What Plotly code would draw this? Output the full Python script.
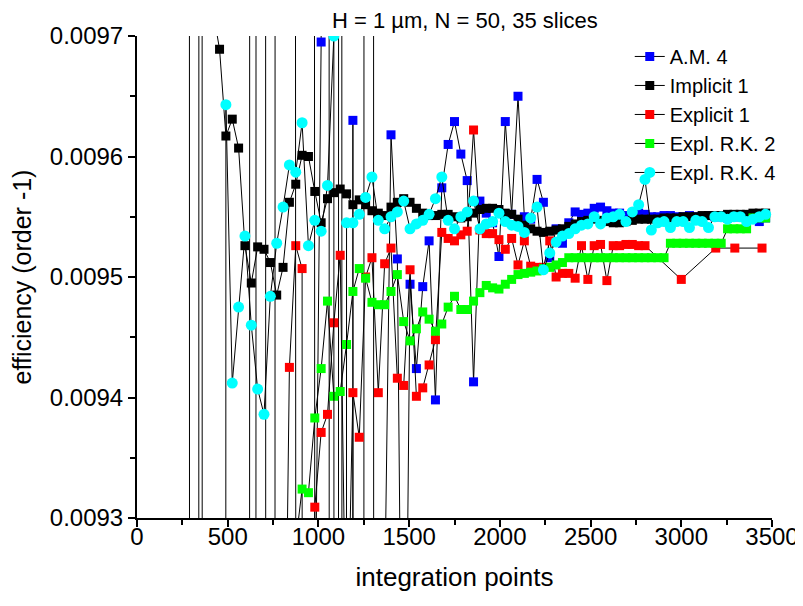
import plotly.graph_objects as go

STEP = 35  # integration points grow by 35 per slice setting

# A.M. 4 (starts at 8*35); values far outside the window are the divergent runs
am4_start = 8
am4 = [0.02, -0.02, 0.02, -0.02, -0.02, -0.02, -0.02, -0.02, -0.02, -0.02,
       0.02, 0.02, 0.02, -0.02, 0.02, 0.02, 0.02, 0.02, 0.02, 0.02,
       0.00917, 0.009695, 0.02, -0.02, 0.02, -0.02, 0.00963, -0.02, 0.02, 0.02,
       -0.02, 0.00923, 0.009618, 0.009515, 0.00894, 0.009494, 0.009424, 0.009492, 0.00953, 0.009398,
       0.009574, 0.00961, 0.009629, 0.009602, 0.00958, 0.009413, 0.009563, 0.009553, 0.009545, 0.009517,
       0.009629, 0.009552, 0.00965, 0.00955, 0.009548, 0.009581, 0.009562, 0.009516, 0.00954, 0.009528,
       0.009545, 0.009554, 0.009552, 0.009553, 0.009557, 0.009558, 0.009555, 0.009553, 0.009553, 0.009551,
       0.009552, 0.009553, 0.009552, 0.00955, 0.00955, 0.009551, 0.009551, 0.00955, 0.00955, 0.009551,
       0.00955, 0.00955, 0.009551, 0.00955, 0.00955, 0.009549, 0.00955, 0.00955, 0.00955, 0.009549,
       0.009546, 0.009549]

# Implicit 1
impl1_start = 12
impl1 = [0.00972, 0.009689, 0.009617, 0.009631, 0.009607, 0.009526, 0.009495, 0.009525, 0.009523, 0.009512,
         0.009485, 0.009508, 0.009562, 0.009577, 0.009601, 0.0096, 0.009571, 0.009545, 0.009565, 0.00957,
         0.009573, 0.009569, 0.00956, 0.009564, 0.00956, 0.009555, 0.009553, 0.009551, 0.009558, 0.009562,
         0.009565, 0.009562, 0.009557, 0.009553, 0.009551, 0.009551, 0.009552, 0.009552, 0.00955, 0.009549,
         0.00955, 0.009553, 0.009556, 0.009557, 0.009557, 0.009556, 0.009553, 0.009552, 0.009548, 0.009543,
         0.00954, 0.009538, 0.009537, 0.009538, 0.009539, 0.00954, 0.009542, 0.009544, 0.009546, 0.009547,
         0.009548, 0.009547, 0.009546, 0.009545, 0.009545, 0.009546, 0.009547, 0.009548, 0.009548, 0.009548,
         0.009548, 0.009549, 0.009549, 0.009549, 0.00955, 0.00955, 0.00955, 0.009551, 0.009551, 0.009551,
         0.009551, 0.009552, 0.009552, 0.009552, 0.009552, 0.009553, 0.009553, 0.009553]

# Explicit 1 (dense part, then a sparse tail)
expl1_start = 23
expl1 = [0.0090, 0.009425, 0.009526, 0.009507, -0.02, 0.009309, 0.009371, 0.009386, 0.009462, 0.009518,
         0.00915, 0.009404, 0.009367, 0.0095, 0.009516, 0.009404, 0.009511, 0.009524, 0.009416, 0.00941,
         0.009506, 0.009401, 0.009408, 0.009427, 0.009448, 0.009537, 0.009532, 0.00953, 0.009535, 0.009538,
         0.009622, 0.009539, 0.009536, 0.009536, 0.009531, 0.009523, 0.009532, 0.00951, 0.00953, 0.009509,
         0.009508, 0.009508, 0.00953, 0.0095, 0.009503, 0.009503, 0.009499, 0.009526, 0.009498, 0.009526,
         0.009527, 0.009497, 0.009526, 0.009526, 0.009527, 0.009527, 0.009526, 0.009526]
expl1_tail_x = [3000, 3190, 3295, 3445]
expl1_tail = [0.009498, 0.009524, 0.009524, 0.009524]

# Expl. R.K. 2
rk2_start = 16
rk2 = [-0.02, -0.02, -0.02, 0.02, 0.02, 0.02, 0.02, 0.02, 0.02, 0.00928,
       0.009324, 0.009321, 0.009383, 0.009424, 0.00948, 0.009401, 0.009405, 0.009444, 0.009488, 0.009507,
       0.009499, 0.009479, 0.009477, 0.009477, 0.009488, 0.009502, 0.009463, 0.009447, 0.009457, 0.009471,
       0.009465, 0.009455, 0.009461, 0.009475, 0.009484, 0.009473, 0.009473, 0.00948, 0.009487, 0.009493,
       0.009491, 0.00949, 0.009494, 0.009498, 0.009502, 0.009503, 0.009504, 0.009505, 0.009507, 0.009508,
       0.00951, 0.009512, 0.009516, 0.009516, 0.009516, 0.009516, 0.009516, 0.009516, 0.009516, 0.009516,
       0.009516, 0.009516, 0.009516, 0.009516, 0.009516, 0.009516, 0.009516, 0.009516, 0.009528, 0.009528,
       0.009528, 0.009528, 0.009528, 0.009528, 0.009528, 0.009528, 0.009528, 0.00954, 0.00954, 0.00954,
       0.00954, 0.009549, 0.009549, 0.009549]

# Expl. R.K. 4
rk4_start = 13
rk4 = [-0.02, 0.009643, 0.009412, 0.009475, 0.009534, 0.00946, 0.009407, 0.009386, 0.009484, 0.009528,
       0.009558, 0.009593, 0.009587, 0.009628, 0.009526, 0.009547, 0.009538, 0.009576, 0.0097, -0.02,
       0.009545, 0.009545, 0.009552, 0.009566, 0.009583, 0.009547, 0.00954, 0.00955, 0.009554, 0.009563,
       0.00954, 0.009544, 0.009547, 0.009552, 0.009565, 0.009583, 0.009547, 0.00954, 0.00955, 0.009554,
       0.009563, 0.00954, 0.009544, 0.009546, 0.009553, 0.009546, 0.009543, 0.009542, 0.009537, 0.009549,
       0.009558, 0.009506, 0.00952, 0.009529, 0.009534, 0.009536, 0.00954, 0.009543, 0.009544, 0.00955,
       0.009544, 0.009549, 0.00955, 0.009552, 0.009546, 0.009554, 0.00956, 0.009581, 0.009539, 0.009545,
       0.009546, 0.009541, 0.009546, 0.009546, 0.009541, 0.009547, 0.009546, 0.009541, 0.00955, 0.00955,
       0.009548, 0.00955, 0.00955, 0.009546, 0.009548, 0.00955, 0.009552]


def xs(start, vals):
    return [STEP * (start + i) for i in range(len(vals))]


series = [
    ("A.M. 4", xs(am4_start, am4), am4, "#0000ff", "square", 9),
    ("Implicit 1", xs(impl1_start, impl1), impl1, "#000000", "square", 9),
    ("Explicit 1", xs(expl1_start, expl1) + expl1_tail_x, expl1 + expl1_tail, "#ff0000", "square", 9),
    ("Expl. R.K. 2", xs(rk2_start, rk2), rk2, "#00ff00", "square", 9),
    ("Expl. R.K. 4", xs(rk4_start, rk4), rk4, "#00ffff", "circle", 11),
]

fig = go.Figure()
for name, x, y, col, sym, sz in series:
    fig.add_trace(go.Scatter(x=x, y=y, name=name, mode="lines+markers",
                             line=dict(color="black", width=1),
                             marker=dict(color=col, symbol=sym, size=sz, line=dict(width=0))))

font = "Arial, Liberation Sans, sans-serif"
# page body adds 8px, so the figure is shifted; right edge runs past the window a bit
fig.update_layout(
    width=803, height=598,
    margin=dict(l=129, r=35, t=28, b=88),
    paper_bgcolor="white", plot_bgcolor="white",
    font=dict(family=font, size=22, color="black"),
    title=dict(text="H = 1 µm, N = 50, 35 slices", x=0.569, xanchor="center",
               y=0.98, yanchor="middle", font=dict(size=22)),
    showlegend=True,
    legend=dict(x=0.776, y=0.998, xanchor="left", yanchor="top", bgcolor="rgba(0,0,0,0)",
                font=dict(size=20), tracegroupgap=0),
)
fig.update_xaxes(range=[0, 3500], dtick=500, showgrid=False, zeroline=False,
                 showline=True, linecolor="black", linewidth=2,
                 ticks="outside", ticklen=7, tickwidth=1.5, tickcolor="black",
                 minor=dict(dtick=250, ticks="outside", ticklen=5, tickcolor="black"),
                 tickfont=dict(size=24), ticklabelstandoff=-11,
                 title=dict(text="integration points", font=dict(size=26), standoff=19))
fig.update_yaxes(range=[0.0093, 0.0097], dtick=0.0001, tickformat=".4f", showgrid=False, zeroline=False,
                 showline=True, linecolor="black", linewidth=2,
                 ticks="outside", ticklen=7, tickwidth=1.5, tickcolor="black",
                 minor=dict(dtick=0.00005, ticks="outside", ticklen=5, tickcolor="black"),
                 tickfont=dict(size=24),
                 title=dict(text="efficiency (order -1)", font=dict(size=25), standoff=12))

fig.write_html("out.html")
